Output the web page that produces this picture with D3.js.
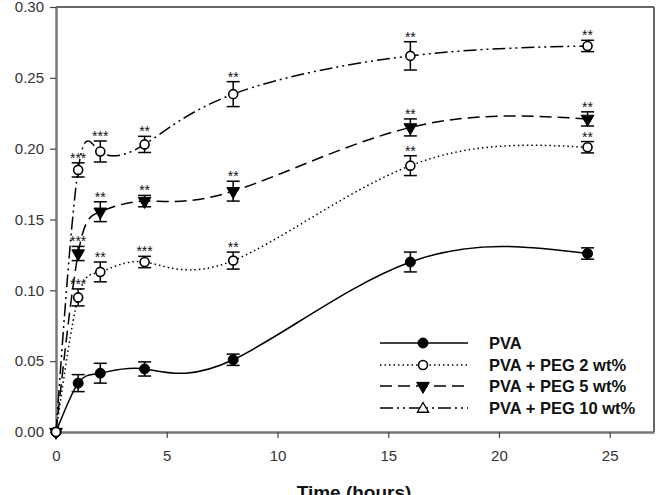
<!DOCTYPE html>
<html>
<head>
<meta charset="utf-8">
<script src="https://cdn.jsdelivr.net/npm/d3@7"></script>
<style>
  body { margin: 0; background: #fff; }
  svg { display: block; font-family: "Liberation Sans", Arial, sans-serif; }
</style>
</head>
<body>
<svg id="chart" width="659" height="495"></svg>
<script>
// ---- data ----
const times = [0, 1, 2, 4, 8, 16, 24];
const seriesNames = ["PVA", "PVA + PEG 2 wt%", "PVA + PEG 5 wt%", "PVA + PEG 10 wt%"];
const pva      = [0, 0.0345, 0.0415, 0.0445, 0.051, 0.120, 0.126];
const peg2     = [0, 0.095, 0.113, 0.120, 0.121, 0.188, 0.201];
const peg5     = [0, 0.126, 0.1555, 0.163, 0.170, 0.215, 0.221];
const peg10    = [0, 0.185, 0.198, 0.203, 0.2385, 0.2655, 0.2725];
const pvaErr   = [0, 0.006, 0.007, 0.005, 0.004, 0.007, 0.004];
const peg2Err  = [0, 0.006, 0.007, 0.004, 0.006, 0.007, 0.004];
const peg5Err  = [0, 0.005, 0.007, 0.004, 0.007, 0.006, 0.005];
const peg10Err = [0, 0.005, 0.0074, 0.0057, 0.0088, 0.010, 0.004];
const pvaSig   = ["", "", "", "", "", "", ""];
const peg2Sig  = ["", "***", "**", "***", "**", "**", "**"];
const peg5Sig  = ["", "***", "**", "**", "**", "**", "**"];
const peg10Sig = ["", "***", "***", "**", "**", "**", "**"];
const xTicks = [0, 5, 10, 15, 20, 25];
const yTicks = [0, 0.05, 0.10, 0.15, 0.20, 0.25, 0.30];

// ---- layout ----
const svg = d3.select("#chart");
const L = 56, R = 654, T = 7, B = 432;
const x = d3.scaleLinear().domain([0, 27]).range([L, R]);
const y = d3.scaleLinear().domain([0, 0.30]).range([B, T]);

// frame (top & right)
svg.append("line").attr("x1", L).attr("x2", R).attr("y1", T).attr("y2", T)
  .attr("stroke", "#666").attr("stroke-width", 2);
svg.append("line").attr("x1", R).attr("x2", R).attr("y1", T).attr("y2", B)
  .attr("stroke", "#666").attr("stroke-width", 2);

// axes
const xAxis = svg.append("g").attr("transform", `translate(0,${B})`)
  .call(d3.axisBottom(x).tickValues(xTicks).tickFormat(d3.format("d")).tickSize(6).tickPadding(12).tickSizeOuter(0));
const yAxis = svg.append("g").attr("transform", `translate(${L},0)`)
  .call(d3.axisLeft(y).tickValues(yTicks).tickFormat(d3.format(".2f")).tickSize(6).tickPadding(6).tickSizeOuter(0));
[xAxis, yAxis].forEach(a => {
  a.select(".domain").attr("stroke", "#777").attr("stroke-width", 2.5);
  a.selectAll(".tick line").attr("stroke", "#444").attr("stroke-width", 1.2);
  a.selectAll(".tick text").attr("fill", "#333").style("font-size", "15px")
    .style("font-family", "'Liberation Sans', Arial, sans-serif");
});

svg.append("text").attr("x", (L + 652) / 2).attr("y", 499).attr("text-anchor", "middle")
  .style("font-size", "19px").style("font-weight", "bold").attr("fill", "#111")
  .text("Time (hours)");

// series
const series = [
  { name: seriesNames[0], vals: pva, err: pvaErr, sig: pvaSig, dash: null, marker: "filledCircle", legendMarker: "filledCircle" },
  { name: seriesNames[1], vals: peg2, err: peg2Err, sig: peg2Sig, dash: "1.5,3", marker: "openCircle", legendMarker: "openCircle" },
  { name: seriesNames[2], vals: peg5, err: peg5Err, sig: peg5Sig, dash: "12,6", marker: "filledTri", legendMarker: "filledTri" },
  { name: seriesNames[3], vals: peg10, err: peg10Err, sig: peg10Sig, dash: "13,4,2,4,2,4", marker: "openCircle", legendMarker: "openTri" }
];

const line = d3.line().x(d => x(d.t)).y(d => y(d.v)).curve(d3.curveNatural);

function drawMarker(g, type, cx, cy) {
  if (type === "filledCircle") {
    g.append("circle").attr("cx", cx).attr("cy", cy).attr("r", 5).attr("fill", "#000").attr("stroke", "#000");
  } else if (type === "openCircle") {
    g.append("circle").attr("cx", cx).attr("cy", cy).attr("r", 4.5).attr("fill", "#fff").attr("stroke", "#000").attr("stroke-width", 1.6);
  } else if (type === "filledTri") {
    g.append("path").attr("d", d3.symbol(d3.symbolTriangle, 70)()).attr("transform", `translate(${cx},${cy}) rotate(180)`)
      .attr("fill", "#000").attr("stroke", "#000");
  } else if (type === "openTri") {
    g.append("path").attr("d", d3.symbol(d3.symbolTriangle, 55)()).attr("transform", `translate(${cx},${cy + 1})`)
      .attr("fill", "#fff").attr("stroke", "#000").attr("stroke-width", 1.3);
  }
}

// lines
series.forEach(s => {
  const pts = times.map((t, i) => ({ t, v: s.vals[i] }));
  svg.append("path").datum(pts).attr("d", line).attr("fill", "none").attr("stroke", "#000")
    .attr("stroke-width", 1.5).attr("stroke-dasharray", s.dash);
});

// error bars, markers, significance
const drawOrder = [0, 2, 1, 3];
drawOrder.forEach(k => {
  const s = series[k];
  const g = svg.append("g");
  times.forEach((t, i) => {
    const cx = x(t), v = s.vals[i], e = s.err[i];
    if (e > 0) {
      const yt = y(v + e), yb = y(v - e);
      g.append("line").attr("x1", cx).attr("x2", cx).attr("y1", yt).attr("y2", yb).attr("stroke", "#000").attr("stroke-width", 1.5);
      g.append("line").attr("x1", cx - 6.5).attr("x2", cx + 6.5).attr("y1", yt).attr("y2", yt).attr("stroke", "#000").attr("stroke-width", 1.5);
      g.append("line").attr("x1", cx - 6.5).attr("x2", cx + 6.5).attr("y1", yb).attr("y2", yb).attr("stroke", "#000").attr("stroke-width", 1.5);
      if (s.sig[i]) {
        g.append("text").attr("x", cx).attr("y", yt).attr("text-anchor", "middle")
          .style("font-size", "14px").attr("fill", "#111").text(s.sig[i]);
      }
    }
    drawMarker(g, s.marker, cx, y(v));
  });
});

// legend
const legY = [343, 365, 386, 408];
series.forEach((s, i) => {
  const g = svg.append("g");
  g.append("line").attr("x1", 380).attr("x2", 468).attr("y1", legY[i]).attr("y2", legY[i])
    .attr("stroke", "#000").attr("stroke-width", 1.5).attr("stroke-dasharray", s.dash);
  drawMarker(g, s.legendMarker, 423, legY[i]);
  g.append("text").attr("x", 489).attr("y", legY[i]).attr("dy", "0.36em")
    .style("font-size", "16.5px").style("font-weight", "bold").attr("fill", "#111").text(s.name);
});
</script>
</body>
</html>
